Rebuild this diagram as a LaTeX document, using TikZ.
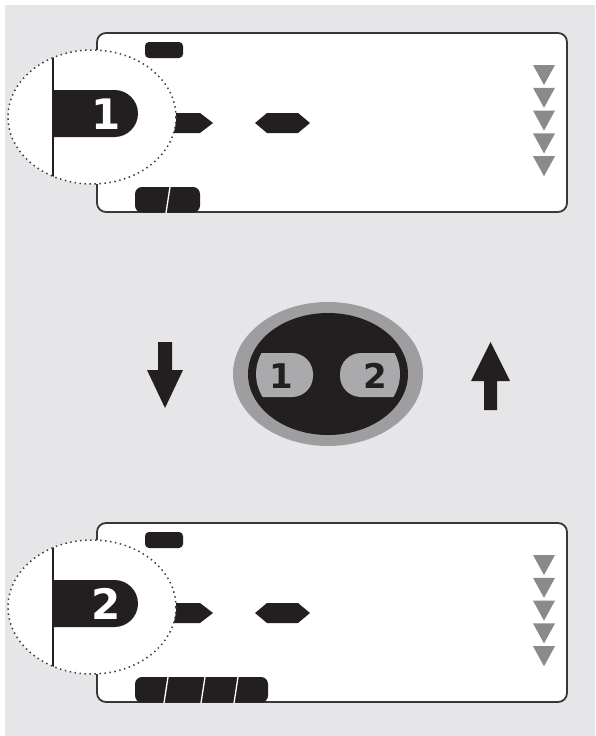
\documentclass[tikz,border=0pt]{standalone}
\usepackage{fontspec}
\setmainfont{DejaVu Sans}
\definecolor{bg}{RGB}{230,230,232}
\definecolor{ink}{RGB}{35,31,32}
\definecolor{tri}{RGB}{138,138,140}
\definecolor{ring}{RGB}{158,158,160}
\definecolor{pillc}{RGB}{170,170,172}
\definecolor{framec}{RGB}{55,55,55}
\tikzset{
  frameline/.style={draw=framec, line width=1.8pt, fill=white, rounded corners=9pt},
  inkfill/.style={fill=ink},
  lensborder/.style={draw=black!75, line width=1.5pt, dash pattern=on 1.5pt off 3.5pt},
  bigdigit/.style={font=\fontsize{42}{42}\selectfont\bfseries, text=white, inner sep=0pt},
  smalldigit/.style={font=\fontsize{34}{34}\selectfont\bfseries, text=ink, inner sep=0pt},
}
\newcommand\devicepanel[4]{%
\begin{scope}[shift={(0,#1)}]
  \draw[frameline] (97,33) rectangle (567,212);
  \fill[inkfill, rounded corners=4pt] (145,42) rectangle (183,58);
  \fill[inkfill] (165,113) -- (200,113) -- (213,123) -- (200,133) -- (165,133) -- cycle;
  \fill[inkfill] (255,123) -- (267,113) -- (298,113) -- (310,123) -- (298,133) -- (267,133) -- cycle;
  \foreach \k in {0,...,4}{
    \fill[tri] (533,65+22.8*\k) -- (555,65+22.8*\k) -- (544,85+22.8*\k) -- cycle;
  }
  \fill[inkfill, rounded corners=7pt] (135,187) rectangle (#3,212.5);
  \foreach \s in {#4}{
    \draw[white, line width=1.3pt] (\s+2,187) -- (\s-2,213);
  }
  \fill[white] (92,117) ellipse [x radius=84, y radius=67];
  \begin{scope}
    \clip (92,117) ellipse [x radius=84, y radius=67];
    \draw[ink, line width=2.6pt] (53,40) -- (53,200);
  \end{scope}
  \fill[inkfill] (53,90) -- (114.5,90) arc[start angle=-90, end angle=90, radius=23.5] -- (53,137) -- cycle;
  \node[bigdigit] (tab#2) at (106,114) {#2};
  \draw[lensborder] (92,117) ellipse [x radius=84, y radius=67];
\end{scope}}
\begin{document}
\begin{tikzpicture}[x=1pt, y=-1pt]
  \useasboundingbox (0,0) rectangle (595,736);
  \fill[white] (0,0) rectangle (595,736);
  \fill[bg] (5,5) rectangle (595,736);
  % top and bottom displays
  \devicepanel{0}{1}{200}{168}
  \devicepanel{490}{2}{268}{166,203,236}
  % selector button
  \fill[ring] (328,374) ellipse [x radius=95, y radius=72];
  \fill[ink] (328,374) ellipse [x radius=80, y radius=61];
  \begin{scope}
    \clip (328,374) ellipse [x radius=72, y radius=55];
    \fill[pillc, rounded corners=21pt] (225,353) rectangle (313,397);
    \fill[pillc, rounded corners=21pt] (340,353) rectangle (430,397);
  \end{scope}
  \node[smalldigit] (b1) at (281,376) {1};
  \node[smalldigit] (b2) at (375,376) {2};
  % arrows
  \fill[ink] (158,342) -- (172,342) -- (172,370) -- (183,370) -- (165,408) -- (147,370) -- (158,370) -- cycle;
  \fill[ink] (490.5,342) -- (510,381) -- (497,381) -- (497,410) -- (484,410) -- (484,381) -- (471,381) -- cycle;
\end{tikzpicture}
\end{document}
